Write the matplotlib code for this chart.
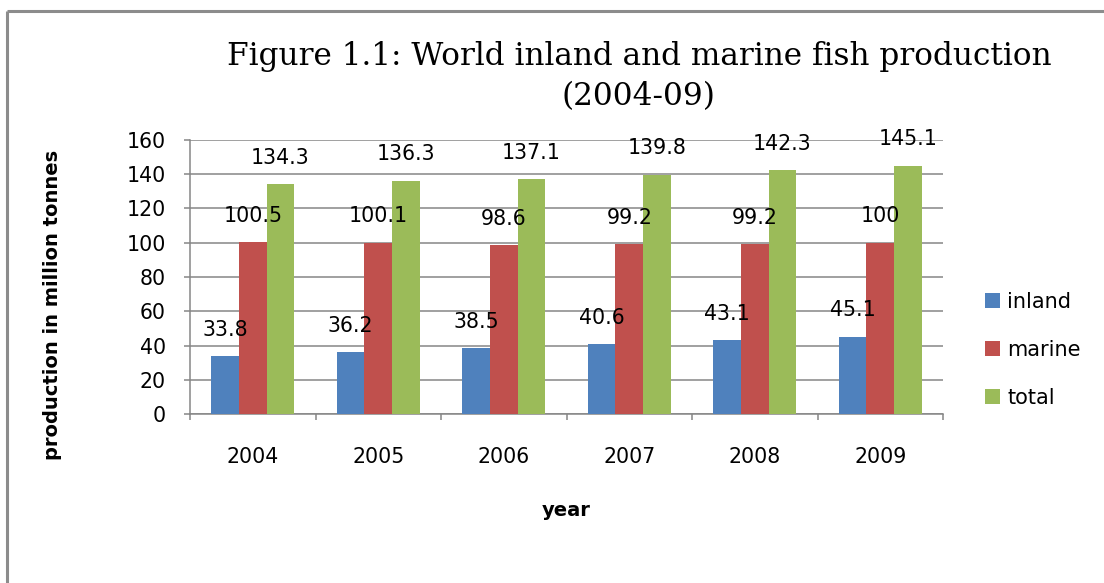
import matplotlib
matplotlib.use("Agg")
import matplotlib.pyplot as plt
from matplotlib.lines import Line2D
from matplotlib.patches import Patch
import numpy as np

years = ["2004", "2005", "2006", "2007", "2008", "2009"]
inland = [33.8, 36.2, 38.5, 40.6, 43.1, 45.1]
marine = [100.5, 100.1, 98.6, 99.2, 99.2, 100]
total = [134.3, 136.3, 137.1, 139.8, 142.3, 145.1]
series_names = ["inland", "marine", "total"]
series_colors = ["#4F81BD", "#C0504D", "#9BBB59"]
y_ticks = [0, 20, 40, 60, 80, 100, 120, 140, 160]

W, H = 1104, 583
DPI = 100
GRAY = "#868686"
plt.rcParams["font.family"] = ["DejaVu Sans"]

fig = plt.figure(figsize=(W / DPI, H / DPI), dpi=DPI)
fig.patch.set_facecolor("white")

# outer chart border (left and top edges)
fig.add_artist(Line2D([7 / W, 7 / W], [0, 1 - 11 / H], transform=fig.transFigure,
                      color="#8C8C8C", lw=2.2, solid_capstyle="butt"))
fig.add_artist(Line2D([7 / W, 1], [1 - 11 / H, 1 - 11 / H], transform=fig.transFigure,
                      color="#8C8C8C", lw=2.2, solid_capstyle="butt"))

left, right, top, bottom = 190, 943, 140, 414
ax = fig.add_axes([left / W, 1 - bottom / H, (right - left) / W, (bottom - top) / H])

x = np.arange(len(years))
bw = 0.22
data = [inland, marine, total]
for i, (vals, name, col) in enumerate(zip(data, series_names, series_colors)):
    pos = x + (i - 1) * bw
    ax.bar(pos, vals, width=bw, color=col, label=name, zorder=3)
    for px, v in zip(pos, vals):
        ax.annotate(f"{v:g}", (px, v), xytext=(0, 19), textcoords="offset points",
                    ha="center", va="center", fontsize=14.8, color="black", zorder=4)

ax.set_xlim(-0.5, len(years) - 0.5)
ax.set_ylim(0, 160)
ax.set_yticks(y_ticks)
ax.grid(axis="y", color=GRAY, lw=1.1, zorder=0)
ax.set_axisbelow(True)

ax.set_xticks(x)
ax.set_xticklabels(years)
ax.set_xticks(np.arange(len(years) + 1) - 0.5, minor=True)
ax.tick_params(axis="x", which="major", length=0, pad=24, labelsize=14.8)
ax.tick_params(axis="x", which="minor", length=4.5, width=1.1, color=GRAY, direction="out")
ax.tick_params(axis="y", length=4.5, width=1.1, color=GRAY, direction="out", pad=13, labelsize=14.8)

for s in ["top", "right"]:
    ax.spines[s].set_visible(False)
for s in ["left", "bottom"]:
    ax.spines[s].set_color(GRAY)
    ax.spines[s].set_linewidth(1.1)

# axis titles
fig.text(53 / W, 1 - 305 / H, "production in million tonnes", rotation=90,
         ha="center", va="center", fontsize=14, fontweight="bold")
fig.text(566 / W, 1 - 510 / H, "year", ha="center", va="center",
         fontsize=14, fontweight="bold")

# chart title
fig.text(639 / W, 1 - 56 / H, "Figure 1.1: World inland and marine fish production",
         ha="center", va="center", fontsize=22.4, family="DejaVu Serif")
fig.text(639 / W, 1 - 97 / H, "(2004-09)", ha="center", va="center",
         fontsize=22.4, family="DejaVu Serif")

handles = [Patch(facecolor=c, edgecolor="none") for c in series_colors]
fig.legend(handles, series_names, loc="center left",
           bbox_to_anchor=(985 / W, 1 - 350 / H), bbox_transform=fig.transFigure,
           frameon=False, fontsize=15, handlelength=0.72, handleheight=0.72,
           handletextpad=0.35, labelspacing=1.34, borderpad=0, borderaxespad=0)

fig.savefig("out.png", dpi=DPI, facecolor="white")
